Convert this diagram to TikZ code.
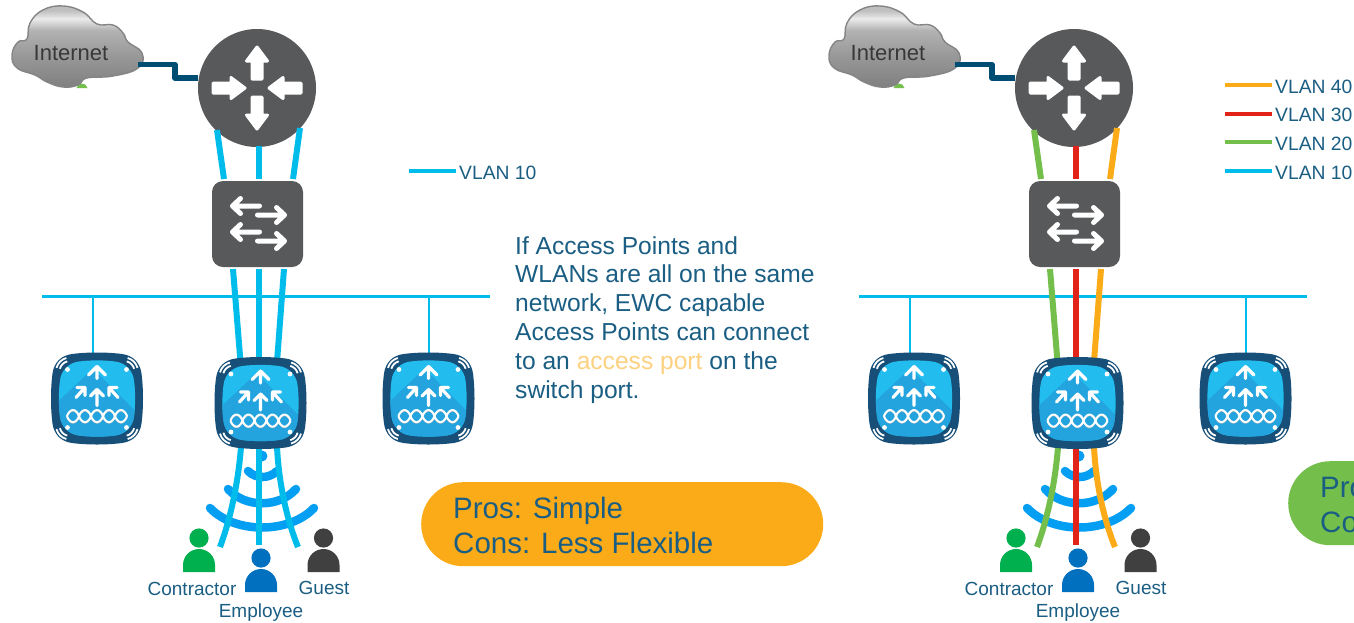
\documentclass[tikz,border=0pt]{standalone}
\usepackage{fontspec}
\setmainfont{Liberation Sans}
\usetikzlibrary{calc}
\definecolor{ink}{HTML}{1B5E83}
\definecolor{devgrey}{HTML}{58595B}
\definecolor{vcyan}{HTML}{00BCEB}
\definecolor{vgreen}{HTML}{74BF4B}
\definecolor{vred}{HTML}{E2231A}
\definecolor{vorange}{HTML}{FBAB18}
\definecolor{uplink}{HTML}{004D73}
\definecolor{wifiblue}{HTML}{049FF2}
\definecolor{apframe}{HTML}{174F78}
\definecolor{aplight}{HTML}{22BDEE}
\definecolor{apdark}{HTML}{24A4DE}
\definecolor{pgreen}{HTML}{00B04F}
\definecolor{pblue}{HTML}{0070BF}
\definecolor{pgrey}{HTML}{404040}
\pgfdeclareverticalshading{cloudsh}{100bp}{
  color(0bp)=(black!50); color(25bp)=(black!50); color(45bp)=(black!40);
  color(60bp)=(black!30); color(67bp)=(black!8); color(72bp)=(black!25); color(100bp)=(black!30)}
\tikzset{
  x=1pt,y=-1pt,
  lab/.style={font=\fontsize{19}{21}\selectfont,text=ink,inner sep=0pt},
  leg/.style={font=\fontsize{19.3}{21}\selectfont,text=ink,inner sep=0pt,anchor=west},
  pilltext/.style={font=\fontsize{29.5}{35}\selectfont,text=ink,inner sep=0pt,anchor=base west},
  routerbody/.style={circle,fill=devgrey,minimum size=118pt,inner sep=0pt},
  switchbody/.style={rectangle,rounded corners=11pt,fill=devgrey,minimum width=91pt,minimum height=86pt,inner sep=0pt},
  apanchor/.style={rectangle,minimum size=92pt,inner sep=0pt},
  vlanlink/.style={line width=6pt},
  busline/.style={line width=3pt,draw=vcyan},
  dropline/.style={line width=2.4pt,draw=vcyan},
  legline/.style={line width=4pt},
  arc/.style={line width=8.5pt,draw=wifiblue,line cap=round},
  routerarrow/.pic={\filldraw[white,line width=3pt,line join=round]
     (2,-5)--(20,-5)--(20,-10.5)--(34,0)--(20,10.5)--(20,5)--(2,5)--cycle;},
  swarrow/.pic={\draw[white,line width=5pt,line cap=round,line join=round]
     (0,0)--(27,0) (19,-7.5)--(27,0)--(19,7.5);},
  apicon/.pic={
    \fill[apframe] (-25,-44.5) .. controls (-10,-46.5) and (10,-46.5) .. (25,-44.5)
       .. controls (36,-43) and (43,-36) .. (44.5,-25)
       .. controls (46.5,-10) and (46.5,10) .. (44.5,25)
       .. controls (43,36) and (36,43) .. (25,44.5)
       .. controls (10,46.5) and (-10,46.5) .. (-25,44.5)
       .. controls (-36,43) and (-43,36) .. (-44.5,25)
       .. controls (-46.5,10) and (-46.5,-10) .. (-44.5,-25)
       .. controls (-43,-36) and (-36,-43) .. (-25,-44.5) -- cycle;
    \begin{scope}
    \clip (-18,-37) .. controls (-8,-38.5) and (8,-38.5) .. (18,-37)
       .. controls (28,-36) and (36,-28) .. (37,-18)
       .. controls (38.5,-8) and (38.5,8) .. (37,18)
       .. controls (36,28) and (28,36) .. (18,37)
       .. controls (8,38.5) and (-8,38.5) .. (-18,37)
       .. controls (-28,36) and (-36,28) .. (-37,18)
       .. controls (-38.5,8) and (-38.5,-8) .. (-37,-18)
       .. controls (-36,-28) and (-28,-36) .. (-18,-37) -- cycle;
    \fill[aplight] (-40,-40) rectangle (40,40);
    \fill[apdark] (-40,4) -- (-4,-30) -- (40,14) -- (40,20) -- (20,40) -- (-40,40) -- cycle;
    \end{scope}
    \foreach \sx/\sy in {-1/-1,1/-1,-1/1,1/1}{
      \fill[white] (\sx*29.5,\sy*29) circle (2.4pt);
      \foreach \r in {10.5,14}{
        \draw[white,line width=1.8pt]
          ($(\sx*27,\sy*27)+(\sx*\r*0.259,\sy*\r*0.966)$)
          .. controls ($(\sx*27,\sy*27)+(\sx*\r*0.604,\sy*\r*0.874)$)
          and ($(\sx*27,\sy*27)+(\sx*\r*0.874,\sy*\r*0.604)$)
          .. ($(\sx*27,\sy*27)+(\sx*\r*0.966,\sy*\r*0.259)$);
      }
    }
    \begin{scope}[white,line width=3.2pt,line cap=round,line join=round]
      \draw (0,-20)--(0,-32) (-8.5,-23.5)--(0,-32)--(8.5,-23.5);
      \draw (0,7)--(0,-9) (-6.5,-2.5)--(0,-9)--(6.5,-2.5);
      \draw (-21,-1)--(-12,-11) (-20,-11)--(-12,-11)--(-12,-3);
      \draw (21,-1)--(12,-11) (20,-11)--(12,-11)--(12,-3);
    \end{scope}
    \draw[black!30,line width=1.2pt] plot[domain=-30:30,samples=61,smooth] (\x,{18.5+6*abs(sin((\x+30)*15))^0.7});
    \draw[black!30,line width=1.2pt] plot[domain=-30:30,samples=61,smooth] (\x,{18.5-6*abs(sin((\x+30)*15))^0.7});
    \draw[white,line width=2pt] plot[domain=-30:30,samples=61,smooth] (\x,{17.6+6*abs(sin((\x+30)*15))^0.7});
    \draw[white,line width=2pt] plot[domain=-30:30,samples=61,smooth] (\x,{17.6-6*abs(sin((\x+30)*15))^0.7});
  },
  person/.pic={
    \fill[pic actions] (0,-11) circle (9.6pt);
    \fill[pic actions] (-16,23) -- (-16,16) arc[start angle=180,end angle=0,radius=16pt] -- (16,23) -- cycle;
  },
}
% ------------------------------------------------------------
\newcommand{\drawpanel}[5]{% prefix, x offset, left, mid, right colours
\begin{scope}[xshift=#2pt]
  % cloud
  \fill[vgreen] (76.5,88) .. controls (78,82) and (86,82) .. (87.5,88) -- cycle;
  \draw[draw=black!48,line width=1.4pt,shading=cloudsh]
    plot[smooth cycle,tension=0.75] coordinates {(12,55)(18,42)(27,39)(30,23)(43,10)(63,6)(83,12)(97,24)(113,25)(123,33)(128,42)(142,53)(138,68)(113,76)(87,78)(78,85)(63,87)(47,82)(35,75)(17,68)};
  \node[font=\fontsize{22}{24}\selectfont,text=black!78,inner sep=0pt] (#1net) at (71,53) {Internet};
  \coordinate (#1netout) at (138,64.5);
  % bus
  \coordinate (#1busl) at (42,296.5);
  \coordinate (#1busr) at (490,296.5);
  \draw[busline] (#1busl) -- (#1busr);
  \node[routerbody] (#1router) at (257,88) {};
  \node[switchbody] (#1switch) at (257.5,224) {};
  \node[apanchor] (#1apl) at (97,398.5) {};
  \node[apanchor] (#1apm) at (260.5,403) {};
  \node[apanchor] (#1apr) at (428.5,398.5) {};
  \draw[dropline] (93,296.5) -- (93,353);
  \draw[dropline] (429,296.5) -- (429,353);
  % wifi
  \fill[wifiblue] (262,456) circle (5.5pt);
  \draw[arc] (248,471) .. controls (256,479) and (269,479) .. (277,471);
  \draw[arc] (228,489) .. controls (245,508) and (279,508) .. (296,489);
  \draw[arc] (210,508) .. controls (235,534) and (289,534) .. (314,508);
  % uplink
  \draw[uplink,line width=5.4pt,line join=round] (#1netout) -- (175,64.5) -- (175,78) -- (#1router.west |- 0,78);
  % links router - switch
  \draw[vlanlink,draw=#3] (217,130) -- (224,179);
  \draw[vlanlink,draw=#4] (259,146) -- (259,179);
  \draw[vlanlink,draw=#5] (300,128) -- (293,179);
  % links switch - AP
  \draw[vlanlink,draw=#3] (233,269) -- (240.5,362);
  \draw[vlanlink,draw=#4] (259,269) -- (259,362);
  \draw[vlanlink,draw=#5] (284,269) -- (277,362);
  % links AP - clients
  \draw[vlanlink,draw=#3] (241,447) .. controls (238,485) and (230,520) .. (220,547);
  \draw[vlanlink,draw=#4] (259,447) -- (259,545);
  \draw[vlanlink,draw=#5] (277,447) .. controls (279,485) and (287,520) .. (298,547);
  % icons
  \path (#1router) pic[rotate=90] at ++(0,-7) {routerarrow};
  \path (#1router) pic[rotate=-90] at ++(0,7) {routerarrow};
  \path (#1router) pic at ++(-46,0) {routerarrow};
  \path (#1router) pic[rotate=180] at ++(46,0) {routerarrow};
  \path (#1switch) pic[rotate=180] at ++(2,-18) {swarrow};
  \path (#1switch) pic at ++(0,-9) {swarrow};
  \path (#1switch) pic[rotate=180] at ++(2,8) {swarrow};
  \path (#1switch) pic at ++(0,17) {swarrow};
  \path (#1apl) pic {apicon};
  \path (#1apm) pic {apicon};
  \path (#1apr) pic {apicon};
  % people
  \pic[fill=pgreen] at (199,549) {person};
  \pic[fill=pblue] at (261,569) {person};
  \pic[fill=pgrey] at (323.5,549) {person};
  \node[lab] (#1contractor) at (192,589) {Contractor};
  \node[lab] (#1employee) at (261,612.5) {Employee};
  \node[lab] (#1guest) at (324,587.5) {Guest};
\end{scope}}
\begin{document}
\begin{tikzpicture}
\useasboundingbox (0,0) rectangle (1354,622);
\clip (0,0) rectangle (1354,622);
\fill[white] (0,0) rectangle (1354,622);
\drawpanel{L}{0}{vcyan}{vcyan}{vcyan}
\drawpanel{R}{817}{vgreen}{vred}{vorange}
% left legend
\coordinate (legLa) at (409,170.5);
\coordinate (legLb) at (456,170.5);
\draw[legline,vcyan] (legLa) -- (legLb);
\node[leg] (legLt) at (459,172.5) {VLAN 10};
% right legend
\foreach \yy/\cc/\tt in {85/vorange/VLAN 40,113.5/vred/VLAN 30,142/vgreen/VLAN 20,171/vcyan/VLAN 10}{
  \draw[legline,\cc] (1225,\yy) -- (1272,\yy);
  \node[leg] at (1275,\yy+1.5) {\tt};
}
% explanation
\node[font=\fontsize{24.6}{28.8}\selectfont,text=ink,inner sep=0pt,anchor=north west,align=left] (note) at (515,236)
 {If Access Points and\\WLANs are all on the same\\network, EWC capable\\Access Points can connect\\to an \textcolor{vorange!55}{access port} on the\\switch port.};
% pills
\node[rectangle,rounded corners=42pt,fill=vorange,minimum width=402pt,minimum height=84pt,inner sep=0pt,anchor=north west] (pillL) at (421,482) {};
\node[pilltext] (prosL) at (453,518) {Pros: Simple};
\node[pilltext] (consL) at (453,553) {Cons: Less Flexible};
\node[rectangle,rounded corners=42pt,fill=vgreen,minimum width=300pt,minimum height=84pt,inner sep=0pt,anchor=north west] (pillR) at (1288,461) {};
\node[pilltext] (prosR) at (1320,497) {Pro};
\node[pilltext] (consR) at (1320,532) {Co};
\end{tikzpicture}
\end{document}
